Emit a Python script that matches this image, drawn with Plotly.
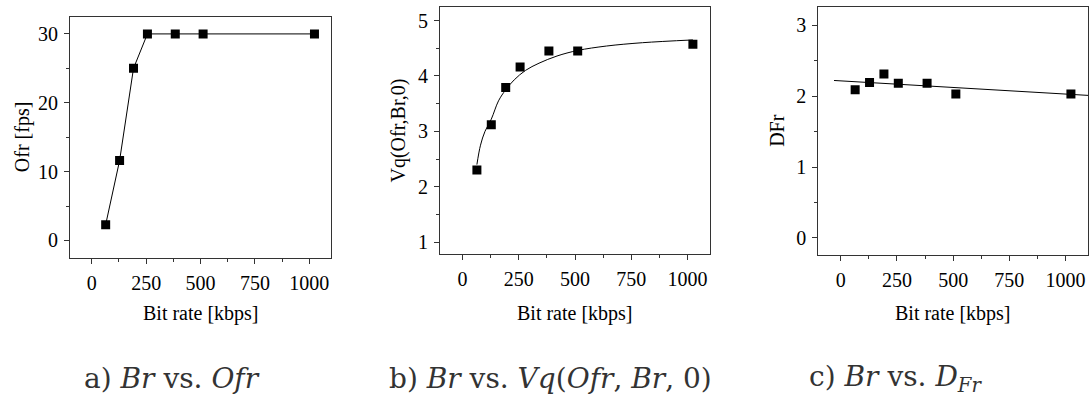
import plotly.graph_objects as go

W, H = 1091, 402

# Data
bit_rate = [64, 128, 192, 256, 384, 512, 1024]
ofr = [2.3, 11.6, 25, 30, 30, 30, 30]
vq = [2.30, 3.12, 3.79, 4.16, 4.45, 4.45, 4.57]
dfr = [2.09, 2.19, 2.31, 2.18, 2.18, 2.03, 2.03]

# Fitted curve (panel b)
vq_fit_x = [64, 80, 100, 128, 160, 192, 230, 280, 340, 420, 512, 640, 800, 1024]
vq_fit_y = [2.40, 2.75, 3.00, 3.22, 3.55, 3.75, 3.93, 4.10, 4.23, 4.36, 4.46, 4.54, 4.60, 4.65]

# Linear fit (panel c)
dfr_fit_x = [-30, 1100]
dfr_fit_y = [2.22, 2.01]

x_title = "Bit rate [kbps]"
y_titles = ["Ofr [fps]", "Vq(Ofr,Br,0)", "DFr"]
captions = ["a) <i>Br</i> vs. <i>Ofr</i>",
            "b) <i>Br</i> vs. <i>Vq</i>(<i>Ofr</i>, <i>Br</i>, 0)",
            "c) <i>Br</i> vs. <i>D</i><sub><i>Fr</i></sub>"]

FONT = "Liberation Serif, Times New Roman, serif"
CAPFONT = "DejaVu Serif, serif"
INK = "black"
FRAME = "#333333"
FS = 20

# panel geometry in pixels (left, right, top, bottom)
panels = [(70, 331, 16.7, 257.7), (440, 710, 6.7, 254.3), (818.3, 1088, 6.7, 255)]
yranges = [[-2.5, 32.5], [0.78, 5.25], [-0.24, 3.26]]
ydticks = [10, 1, 1]
yticks0 = [0, 1, 0]

fig = go.Figure()

mk = dict(symbol="square", size=9, color=INK, line=dict(width=0))

fig.add_trace(go.Scatter(x=bit_rate, y=ofr, mode="lines+markers",
                         line=dict(color=INK, width=1), marker=mk,
                         xaxis="x", yaxis="y", showlegend=False))
fig.add_trace(go.Scatter(x=vq_fit_x, y=vq_fit_y, mode="lines",
                         line=dict(color=INK, width=1, shape="spline", smoothing=1.0),
                         xaxis="x2", yaxis="y2", showlegend=False))
fig.add_trace(go.Scatter(x=bit_rate, y=vq, mode="markers", marker=mk,
                         xaxis="x2", yaxis="y2", showlegend=False))
fig.add_trace(go.Scatter(x=dfr_fit_x, y=dfr_fit_y, mode="lines",
                         line=dict(color=INK, width=1),
                         xaxis="x3", yaxis="y3", showlegend=False))
fig.add_trace(go.Scatter(x=bit_rate, y=dfr, mode="markers", marker=mk,
                         xaxis="x3", yaxis="y3", showlegend=False))

layout = dict(
    width=W, height=H,
    margin=dict(l=0, r=0, t=0, b=0),
    paper_bgcolor="white", plot_bgcolor="white",
    font=dict(family=FONT, size=FS, color=INK),
    showlegend=False,
)

annotations = []
for i, (l, r, t, b) in enumerate(panels):
    sfx = "" if i == 0 else str(i + 1)
    xa = dict(domain=[l / W, r / W], range=[-100, 1100],
              tick0=0, dtick=250, ticks="outside", ticklen=5, tickwidth=1,
              tickcolor=FRAME, showline=True, linecolor=FRAME, linewidth=1,
              mirror=True, showgrid=False, zeroline=False,
              minor=dict(ticks="outside", ticklen=3, tickwidth=1, tickcolor=FRAME, dtick=125, tick0=125),
              tickfont=dict(family=FONT, size=FS, color=INK),
              anchor="y" + sfx, ticklabelstandoff=2)
    ya = dict(domain=[1 - b / H, 1 - t / H], range=yranges[i],
              tick0=yticks0[i], dtick=ydticks[i], ticks="outside", ticklen=5, tickwidth=1,
              tickcolor=FRAME, showline=True, linecolor=FRAME, linewidth=1,
              mirror=True, showgrid=False, zeroline=False,
              minor=dict(ticks="outside", ticklen=3, tickwidth=1, tickcolor=FRAME,
                         dtick=ydticks[i] / 2),
              tickfont=dict(family=FONT, size=FS, color=INK),
              anchor="x" + sfx, ticklabelstandoff=2)
    layout["xaxis" + sfx] = xa
    layout["yaxis" + sfx] = ya

# axis titles
xt_centers = [(70 + 331) / 2, (440 + 710) / 2, (818.3 + 1088) / 2]
yt_x = [22, 398, 777]
for i, (l, r, t, b) in enumerate(panels):
    annotations.append(dict(text=x_title, x=xt_centers[i] / W, y=1 - 313 / H,
                            xref="paper", yref="paper", xanchor="center", yanchor="middle",
                            showarrow=False, font=dict(family=FONT, size=FS, color=INK)))
    annotations.append(dict(text=y_titles[i], x=yt_x[i] / W, y=1 - ((t + b) / 2) / H,
                            xref="paper", yref="paper", xanchor="center", yanchor="middle",
                            textangle=-90, showarrow=False,
                            font=dict(family=FONT, size=FS, color=INK)))

cap_centers = [172, 550, 895]
for i, c in enumerate(captions):
    annotations.append(dict(text=c, x=cap_centers[i] / W, y=1 - 378 / H,
                            xref="paper", yref="paper", xanchor="center", yanchor="middle",
                            showarrow=False, font=dict(family=CAPFONT, size=28, color="#333333")))

layout["annotations"] = annotations
fig.update_layout(**layout)
fig.write_html("out.html")
